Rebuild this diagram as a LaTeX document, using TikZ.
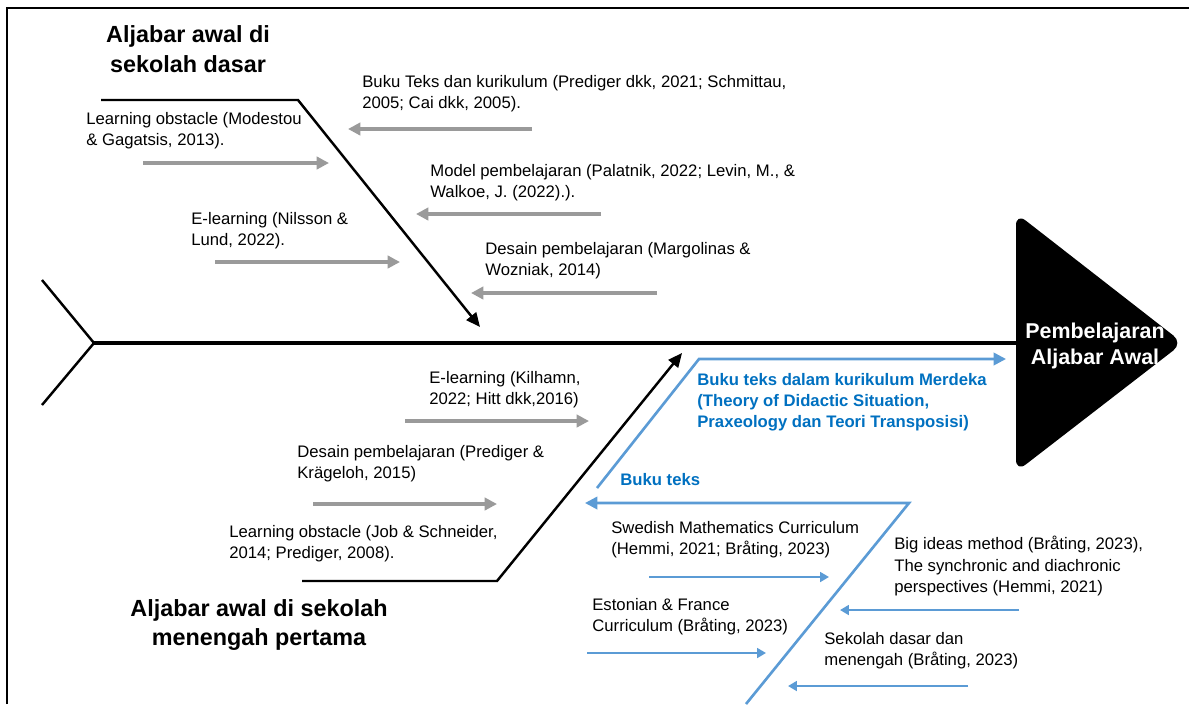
\documentclass[tikz,border=0pt]{standalone}
\usepackage{fontspec}
\setmainfont{Liberation Sans}
\usetikzlibrary{arrows.meta}
\definecolor{BoneBlue}{HTML}{5B9BD5}
\definecolor{TextBlue}{HTML}{0070C0}
\definecolor{ArrowGray}{HTML}{9A9A9A}

\begin{document}
\begin{tikzpicture}[x=0.02cm, y=-0.02cm,
    ref/.style={anchor=west, align=left, inner sep=0pt, font=\fontsize{9.5}{12}\selectfont},
    grp/.style={align=center, inner sep=0pt, font=\fontsize{13.3}{16.8}\selectfont\bfseries},
    bluetxt/.style={anchor=west, align=left, inner sep=0pt, text=TextBlue, font=\fontsize{9.5}{12}\selectfont\bfseries},
    garrow/.style={draw=ArrowGray, line width=1.9pt, -{Triangle[length=7pt,width=7pt]}},
    barrow/.style={draw=BoneBlue, line width=1.5pt, -{Triangle[length=5pt,width=5.5pt]}},
    bone/.style={draw=black, line width=1.4pt},
    bbone/.style={draw=BoneBlue, line width=1.5pt}
  ]
  \useasboundingbox (0,0) rectangle (1189,704);
  \draw[line width=1.1pt] (7,704) -- (7,8) -- (1189,8);

  % spine and head
  \coordinate (tail) at (94,343);
  \coordinate (tailtop) at (42,280);
  \coordinate (tailbot) at (42,405);
  \coordinate (spineend) at (1030,343);
  \draw[bone] (tailtop) -- (tail) -- (tailbot);
  \draw[line width=2.8pt] (tail) -- (spineend);
  \fill[rounded corners=7pt] (1016,213) -- (1183,343) -- (1016,472) -- cycle;
  \node[text=white, align=center, inner sep=0pt, font=\fontsize{12.2}{14.5}\selectfont\bfseries] (head) at (1095,346) {Pembelajaran\\Aljabar Awal};

  % sekolah dasar
  \node[grp] (sdtitle) at (188,49) {Aljabar awal di\\sekolah dasar};
  \coordinate (sdA) at (101,100);
  \coordinate (sdB) at (298,100);
  \coordinate (sdC) at (480,327);
  \draw[bone, -{Triangle[length=8pt,width=7pt]}] (sdA) -- (sdB) -- (sdC);

  \node[ref] (sdlo) at (86,131) {Learning obstacle (Modestou\\\& Gagatsis, 2013).};
  \node[ref] (sdel) at (191,231) {E-learning (Nilsson \&\\Lund, 2022).};
  \node[ref] (sdbk) at (362,94) {Buku Teks dan kurikulum (Prediger dkk, 2021; Schmittau,\\2005; Cai dkk, 2005).};
  \node[ref] (sdmp) at (430,183) {Model pembelajaran (Palatnik, 2022; Levin, M., \&\\Walkoe, J. (2022).).};
  \node[ref] (sddp) at (485,261) {Desain pembelajaran (Margolinas \&\\Wozniak, 2014)};

  \coordinate (sdloA) at (143,163); \coordinate (sdloB) at (329,163);
  \coordinate (sdelA) at (215,262); \coordinate (sdelB) at (400,262);
  \coordinate (sdbkA) at (532,129); \coordinate (sdbkB) at (348,129);
  \coordinate (sdmpA) at (601,214); \coordinate (sdmpB) at (416,214);
  \coordinate (sddpA) at (657,293); \coordinate (sddpB) at (471,293);
  \draw[garrow] (sdloA) -- (sdloB);
  \draw[garrow] (sdelA) -- (sdelB);
  \draw[garrow] (sdbkA) -- (sdbkB);
  \draw[garrow] (sdmpA) -- (sdmpB);
  \draw[garrow] (sddpA) -- (sddpB);

  % sekolah menengah pertama
  \node[grp] (smtitle) at (259,625) {Aljabar awal di sekolah\\menengah pertama};
  \coordinate (smA) at (302,581);
  \coordinate (smB) at (497,581);
  \coordinate (smC) at (682,353);
  \draw[bone, -{Triangle[length=8pt,width=7pt]}] (smA) -- (smB) -- (smC);

  \node[ref] (smel) at (429,390) {E-learning (Kilhamn,\\2022; Hitt dkk,2016)};
  \node[ref] (smdp) at (297,464) {Desain pembelajaran (Prediger \&\\Krägeloh, 2015)};
  \node[ref] (smlo) at (229,544) {Learning obstacle (Job \& Schneider,\\2014; Prediger, 2008).};

  \coordinate (smelA) at (405,421); \coordinate (smelB) at (589,421);
  \coordinate (smdpA) at (313,504); \coordinate (smdpB) at (497,504);
  \draw[garrow] (smelA) -- (smelB);
  \draw[garrow] (smdpA) -- (smdpB);

  % buku teks
  \coordinate (bkA) at (597,488);
  \coordinate (bkB) at (699,359);
  \coordinate (bkC) at (1006,359);
  \draw[bbone, -{Triangle[length=7pt,width=7pt]}] (bkA) -- (bkB) -- (bkC);
  \node[bluetxt] (merdeka) at (697,402) {Buku teks dalam kurikulum Merdeka\\(Theory of Didactic Situation,\\Praxeology dan Teori Transposisi)};
  \node[bluetxt] (bukuteks) at (620,480) {Buku teks};

  \coordinate (btA) at (746,704);
  \coordinate (btB) at (909,503);
  \coordinate (btC) at (585,503);
  \draw[bbone, -{Triangle[length=7pt,width=7pt]}] (btA) -- (btB) -- (btC);

  \node[ref] (swe) at (611,540) {Swedish Mathematics Curriculum\\(Hemmi, 2021; Bråting, 2023)};
  \node[ref] (est) at (592,617) {Estonian \& France\\Curriculum (Bråting, 2023)};
  \node[ref] (big) at (894,566) {Big ideas method (Bråting, 2023),\\The synchronic and diachronic\\perspectives (Hemmi, 2021)};
  \node[ref] (sek) at (824,651) {Sekolah dasar dan\\menengah (Bråting, 2023)};

  \coordinate (sweA) at (649,577); \coordinate (sweB) at (829,577);
  \coordinate (estA) at (587,653); \coordinate (estB) at (766,653);
  \coordinate (bigA) at (1019,610); \coordinate (bigB) at (840,610);
  \coordinate (sekA) at (968,686); \coordinate (sekB) at (788,686);
  \draw[barrow] (sweA) -- (sweB);
  \draw[barrow] (estA) -- (estB);
  \draw[barrow] (bigA) -- (bigB);
  \draw[barrow] (sekA) -- (sekB);
\end{tikzpicture}
\end{document}
